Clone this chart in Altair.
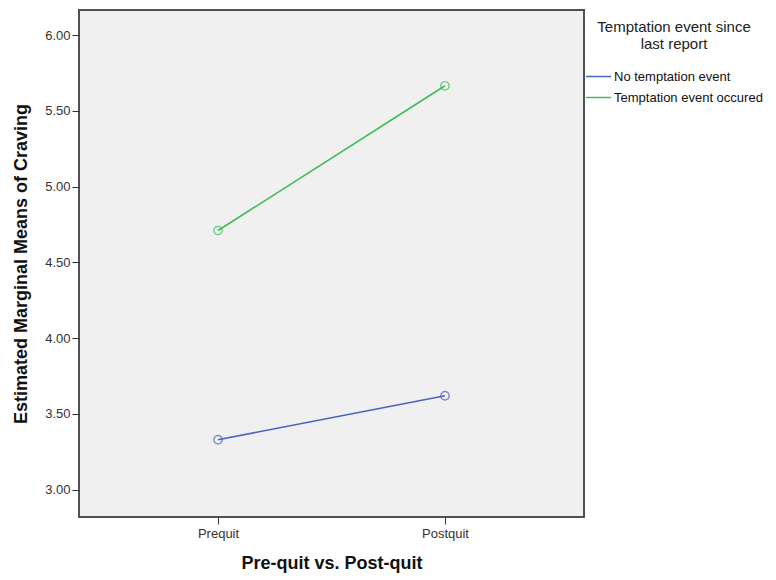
import altair as alt
import pandas as pd

phases = ["Prequit", "Postquit"]
groups = ["No temptation event", "Temptation event occured"]
no_event = [3.33, 3.62]
event = [4.71, 5.665]
y_ticks = [3.0, 3.5, 4.0, 4.5, 5.0, 5.5, 6.0]
colors = ["#4A62C2", "#3EBE55"]

rows = []
for p, v in zip(phases, no_event):
    rows.append({"phase": p, "group": groups[0], "value": v})
for p, v in zip(phases, event):
    rows.append({"phase": p, "group": groups[1], "value": v})
df = pd.DataFrame(rows)

x = alt.X("phase:N", sort=phases, scale=alt.Scale(type="point", padding=0.6125),
          axis=alt.Axis(title="Pre-quit vs. Post-quit", labelAngle=0, labelPadding=3,
                        titlePadding=14))
y = alt.Y("value:Q", scale=alt.Scale(domain=[2.82, 6.165], nice=False, zero=False),
          axis=alt.Axis(title="Estimated Marginal Means of Craving", values=y_ticks,
                        format=".2f", labelPadding=2, titlePadding=14))
color = alt.Color("group:N", sort=groups,
                  scale=alt.Scale(domain=groups, range=colors),
                  legend=alt.Legend(title=["Temptation event since", "last report"],
                                    orient="none", legendX=506, legendY=10,
                                    symbolType="stroke", symbolSize=625,
                                    symbolStrokeWidth=1.5, labelOffset=2,
                                    titleAnchor="middle", titleAlign="center",
                                    titlePadding=11, rowPadding=0))

base = alt.Chart(df)
lines = base.mark_line(strokeWidth=1.6).encode(x=x, y=y, color=color)
points = base.mark_point(shape="circle", size=70, filled=False, strokeWidth=1.4).encode(
    x=x, y=y, color=alt.Color("group:N", sort=groups,
                              scale=alt.Scale(domain=groups, range=colors), legend=None))

chart = alt.layer(lines, points).properties(
    width=505, height=507,
    autosize=alt.AutoSizeParams(type="none"),
    padding={"left": 71, "top": 2, "right": 180, "bottom": 62},
    background="white",
).configure_view(
    fill="#F0F0F0", stroke="#505050", strokeWidth=2
).configure_axis(
    labelFont="Liberation Sans", labelFontSize=13, labelColor="#333",
    titleFont="Liberation Sans", titleFontSize=18, titleFontWeight="bold", titleColor="#111",
    domain=False, grid=False, tickColor="#333", tickSize=7, tickWidth=1
).configure_legend(
    titleFont="Liberation Sans", titleFontSize=15, titleFontWeight="normal", titleColor="#222",
    labelFont="Liberation Sans", labelFontSize=13, labelColor="#111"
)

chart.save("out.html", embed_options={"renderer": "svg", "actions": False})
